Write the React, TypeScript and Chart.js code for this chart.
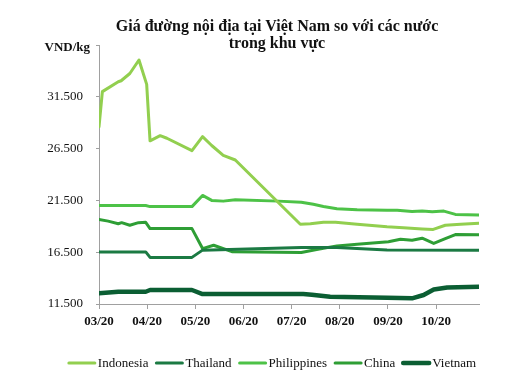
import React, { useEffect, useRef } from 'react';
import { Chart, registerables } from 'chart.js';

Chart.register(...registerables);

// ---- Data ----
const titleLines = ['Giá đường nội địa tại Việt Nam so với các nước', 'trong khu vực'];
const yUnit = 'VND/kg';
const monthLabels = ['03/20', '04/20', '05/20', '06/20', '07/20', '08/20', '09/20', '10/20'];
const seriesNames = ['Indonesia', 'Thailand', 'Philippines', 'China', 'Vietnam'];
const seriesColors = ['#92CF4F', '#1B7A43', '#4DC247', '#2E9E35', '#0B5E33'];
const seriesWidths = [3, 3, 3, 3, 4.5];

// x = months elapsed since 03/20
const indonesiaMonths = [0, 0.07, 0.4, 0.46, 0.64, 0.83, 0.99, 1.06, 1.27, 1.41, 1.93, 2.15, 2.34, 2.58, 2.83, 4.18, 4.39, 4.66, 4.91, 5.36, 5.98, 6.32, 6.71, 6.94, 7.19, 7.51, 7.89];
const indonesiaValues = [28600, 32000, 32950, 33050, 33750, 35050, 32700, 27250, 27750, 27500, 26300, 27650, 26800, 25850, 25400, 19200, 19250, 19400, 19400, 19200, 18950, 18850, 18750, 18700, 19100, 19200, 19300];

const thailandMonths = [0, 0.97, 1.06, 1.93, 2.15, 4.2, 4.94, 5.98, 7.89];
const thailandValues = [16530, 16530, 16000, 16000, 16700, 16950, 16950, 16720, 16700];

const philippinesMonths = [0, 0.97, 1.06, 1.93, 2.15, 2.34, 2.58, 2.83, 3.72, 4.2, 4.45, 4.66, 4.94, 5.36, 5.98, 6.19, 6.5, 6.71, 6.92, 7.16, 7.4, 7.89];
const philippinesValues = [21000, 21000, 20900, 20900, 21980, 21500, 21430, 21570, 21430, 21330, 21120, 20920, 20700, 20600, 20540, 20540, 20440, 20470, 20410, 20470, 20150, 20100];

const chinaMonths = [0, 0.19, 0.4, 0.47, 0.64, 0.82, 0.97, 1.06, 1.93, 2.15, 2.38, 2.76, 4.2, 4.52, 4.94, 5.36, 6.01, 6.26, 6.5, 6.71, 6.95, 7.19, 7.4, 7.89];
const chinaValues = [19670, 19500, 19250, 19350, 19100, 19350, 19380, 18780, 18780, 16850, 17170, 16550, 16480, 16760, 17110, 17270, 17500, 17750, 17650, 17850, 17350, 17800, 18200, 18180];

const vietnamMonths = [0, 0.4, 0.97, 1.06, 1.93, 2.15, 4.24, 4.42, 4.8, 5.98, 6.5, 6.74, 6.95, 7.23, 7.89];
const vietnamValues = [12530, 12680, 12680, 12850, 12850, 12460, 12460, 12400, 12200, 12110, 12050, 12370, 12900, 13100, 13170];

const yMin = 11500;
const yMax = 36500;
const yStep = 5000;
const xMax = 7.89;

const seriesMonths = [indonesiaMonths, thailandMonths, philippinesMonths, chinaMonths, vietnamMonths];
const seriesValues = [indonesiaValues, thailandValues, philippinesValues, chinaValues, vietnamValues];

const SERIF = '"Liberation Serif", "Times New Roman", serif';

function fmt(v: number): string {
  return String(v).replace(/\B(?=(\d{3})+(?!\d))/g, '.');
}

const titlePlugin = {
  id: 'customTitle',
  afterDraw(chart: any) {
    const ctx = chart.ctx;
    ctx.save();
    ctx.fillStyle = '#111';
    ctx.textAlign = 'center';
    ctx.textBaseline = 'alphabetic';
    ctx.font = `bold 16px ${SERIF}`;
    ctx.fillText(titleLines[0], 277, 31);
    ctx.fillText(titleLines[1], 277, 48);
    ctx.font = `bold 13px ${SERIF}`;
    ctx.textAlign = 'right';
    ctx.fillText(yUnit, 90, 51);
    ctx.restore();
  },
};

const legendPlugin = {
  id: 'customLegend',
  afterDraw(chart: any) {
    const ctx = chart.ctx;
    ctx.save();
    ctx.font = `13px ${SERIF}`;
    const lineLen = 28;
    const gap = 2;
    const sep = 7;
    const widths = seriesNames.map((n) => lineLen + gap + ctx.measureText(n).width);
    const total = widths.reduce((a, b) => a + b, 0) + sep * (widths.length - 1);
    let x = 272 - total / 2;
    const y = 363;
    seriesNames.forEach((name, i) => {
      ctx.strokeStyle = seriesColors[i];
      ctx.lineWidth = seriesWidths[i];
      ctx.lineCap = 'round';
      ctx.beginPath();
      ctx.moveTo(x + 1, y);
      ctx.lineTo(x + lineLen - 1, y);
      ctx.stroke();
      ctx.fillStyle = '#111';
      ctx.textAlign = 'left';
      ctx.textBaseline = 'middle';
      ctx.fillText(name, x + lineLen + gap, y + 1);
      x += widths[i] + sep;
    });
    ctx.restore();
  },
};

export default function App() {
  const ref = useRef<HTMLCanvasElement | null>(null);
  useEffect(() => {
    document.body.style.margin = '0';
    const canvas = ref.current!;
    const chart = new Chart(canvas, {
      type: 'line',
      data: {
        datasets: seriesNames.map((name, i) => ({
          label: name,
          data: seriesMonths[i].map((m, j) => ({ x: m, y: seriesValues[i][j] })),
          borderColor: seriesColors[i],
          backgroundColor: seriesColors[i],
          borderWidth: seriesWidths[i],
          pointRadius: 0,
          tension: 0,
          borderJoinStyle: 'round' as const,
          borderCapStyle: 'round' as const,
        })),
      },
      options: {
        animation: false,
        responsive: false,
        maintainAspectRatio: false,
        layout: { padding: { left: 0, right: 44, top: 45, bottom: 45 } },
        plugins: {
          legend: { display: false },
          title: { display: false },
          tooltip: { enabled: false },
        },
        scales: {
          x: {
            type: 'linear',
            min: 0,
            max: xMax,
            afterBuildTicks(scale: any) {
              scale.ticks = monthLabels.map((_, i) => ({ value: i }));
            },
            afterFit(scale: any) {
              scale.height = 30;
            },
            ticks: {
              autoSkip: false,
              maxRotation: 0,
              padding: 5,
              color: '#111',
              font: { family: SERIF, size: 13, weight: 'bold' },
              callback: (v: any) => monthLabels[Math.round(Number(v))] ?? '',
            },
            grid: { display: true, drawOnChartArea: false, drawTicks: true, tickLength: 5, color: '#A0A0A0' },
            border: { display: true, color: '#A0A0A0', width: 1 },
          },
          y: {
            type: 'linear',
            min: yMin,
            max: yMax,
            afterFit(scale: any) {
              scale.width = 99;
            },
            ticks: {
              stepSize: yStep,
              padding: 13,
              color: '#111',
              font: { family: SERIF, size: 13 },
              callback: (v: any) => (Number(v) >= yMax ? '' : fmt(Number(v))),
            },
            grid: { display: true, drawOnChartArea: false, drawTicks: true, tickLength: 3, color: '#A0A0A0' },
            border: { display: true, color: '#A0A0A0', width: 1 },
          },
        },
      },
      plugins: [titlePlugin, legendPlugin],
    } as any);
    return () => chart.destroy();
  }, []);
  return (
    <div style={{ width: 523, height: 379, background: '#fff' }}>
      <canvas ref={ref} width={523} height={379} style={{ display: 'block', width: 523, height: 379 }} />
    </div>
  );
}
